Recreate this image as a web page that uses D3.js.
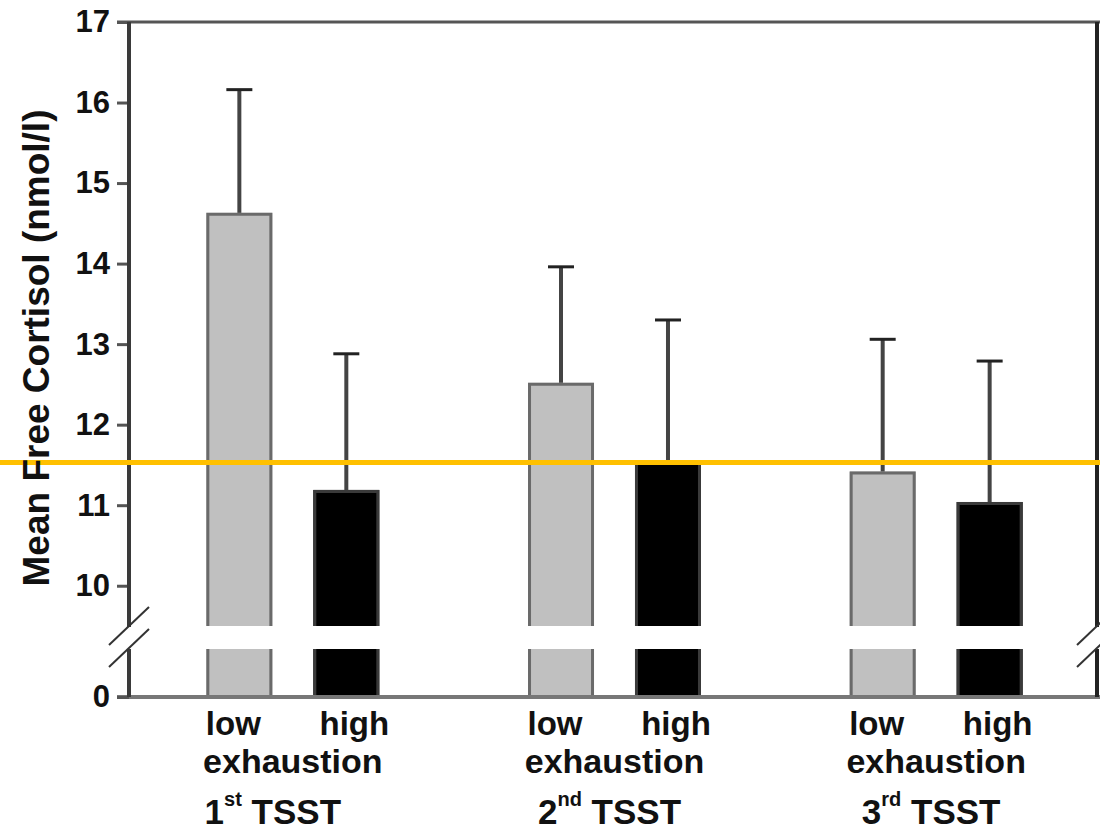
<!DOCTYPE html>
<html>
<head>
	<title>Mean Free Cortisol</title>
	<script type="text/javascript" src="https://cdnjs.cloudflare.com/ajax/libs/d3/7.8.5/d3.min.js"></script>
	<style>
		body { margin: 0; background: #fff; }
		text { font-family: "Liberation Sans", Arial, Helvetica, sans-serif; font-weight: bold; fill: #111; }
	</style>
</head>
<body>
<svg id="chart" width="1100" height="833"></svg>
<script type="text/javascript">
	// data
	var groupNums = ["1", "2", "3"];
	var groupSups = ["st", "nd", "rd"];
	var subgroups = ["low", "high"];
	var lowMean = [14.63, 12.52, 11.42];
	var lowErr = [1.53, 1.44, 1.64];
	var highMean = [11.19, 11.55, 11.04];
	var highErr = [1.69, 1.75, 1.75];
	var refValue = 11.53;
	var yTicks = [10, 11, 12, 13, 14, 15, 16, 17];
	var yLowTicks = [0];

	var svg = d3.select("#chart");

	var axisX = 129, rightX = 1097;
	var yUp = d3.scaleLinear().domain([9.5, 17]).range([626, 22]);
	var yLow = d3.scaleLinear().domain([0, 1]).range([697, 649]);

	var x0 = d3.scaleBand().domain(groupNums).range([132, rightX]);
	var x1 = d3.scaleBand().domain(subgroups).range([0, x0.bandwidth()])
		.paddingInner(0.383).paddingOuter(0.695);

	var bars = [];
	groupNums.forEach(function(g, i) {
		bars.push({group: g, sub: "low", mean: lowMean[i], err: lowErr[i]});
		bars.push({group: g, sub: "high", mean: highMean[i], err: highErr[i]});
	});

	var bw = x1.bandwidth();
	function bx(d) { return x0(d.group) + x1(d.sub); }
	var fillOf = {low: "#c0c0c0", high: "#000"};
	var edgeOf = {low: "#6a6a6a", high: "#3a3a3a"};

	// bars, upper segment
	bars.forEach(function(d) {
		var xl = bx(d), top = yUp(d.mean), bot = yUp(9.5);
		svg.append("rect").attr("x", xl).attr("y", top).attr("width", bw).attr("height", bot - top)
			.attr("fill", fillOf[d.sub]);
		svg.append("path")
			.attr("d", "M" + (xl + 1.5) + "," + bot + "V" + (top + 1.5) + "H" + (xl + bw - 1.5) + "V" + bot)
			.attr("fill", "none").attr("stroke", edgeOf[d.sub]).attr("stroke-width", 3);
		// lower segment
		var lt = yLow.range()[1], lb = yLow(0);
		svg.append("rect").attr("x", xl).attr("y", lt).attr("width", bw).attr("height", lb - lt)
			.attr("fill", fillOf[d.sub]);
		svg.append("path")
			.attr("d", "M" + (xl + 1.5) + "," + lt + "V" + lb + "M" + (xl + bw - 1.5) + "," + lt + "V" + lb)
			.attr("fill", "none").attr("stroke", edgeOf[d.sub]).attr("stroke-width", 3);
	});

	// error bars
	bars.forEach(function(d) {
		var cx = bx(d) + bw / 2;
		svg.append("line").attr("x1", cx).attr("x2", cx)
			.attr("y1", yUp(d.mean)).attr("y2", yUp(d.mean + d.err))
			.attr("stroke", "#444").attr("stroke-width", 4);
		svg.append("line").attr("x1", cx - 13).attr("x2", cx + 13)
			.attr("y1", yUp(d.mean + d.err)).attr("y2", yUp(d.mean + d.err))
			.attr("stroke", "#222").attr("stroke-width", 3);
	});

	// frame: top, bottom, right
	svg.append("line").attr("x1", 117).attr("x2", 1100).attr("y1", yUp(17)).attr("y2", yUp(17))
		.attr("stroke", "#555").attr("stroke-width", 3);
	svg.append("line").attr("x1", 117).attr("x2", 1100).attr("y1", yLow(0)).attr("y2", yLow(0))
		.attr("stroke", "#777").attr("stroke-width", 4);
	svg.append("line").attr("x1", rightX).attr("x2", rightX).attr("y1", yUp(17)).attr("y2", yUp(9.5) + 1)
		.attr("stroke", "#222").attr("stroke-width", 4);
	svg.append("line").attr("x1", rightX).attr("x2", rightX).attr("y1", yLow.range()[1]).attr("y2", yLow(0))
		.attr("stroke", "#222").attr("stroke-width", 4);

	// y axes
	var axUp = svg.append("g").attr("transform", "translate(" + axisX + ",0)")
		.call(d3.axisLeft(yUp).tickValues(yTicks).tickFormat(d3.format("d")).tickSize(12).tickPadding(7).tickSizeOuter(0));
	var axLow = svg.append("g").attr("transform", "translate(" + axisX + ",0)")
		.call(d3.axisLeft(yLow).tickValues(yLowTicks).tickFormat(d3.format("d")).tickSize(12).tickPadding(7).tickSizeOuter(0));
	[axUp, axLow].forEach(function(ax) {
		ax.select(".domain").remove();
		ax.selectAll(".tick line").attr("stroke", "#555").attr("stroke-width", 3);
		ax.selectAll(".tick text").attr("font-size", 31).attr("fill", "#111")
			.style("font-family", "'Liberation Sans', Arial, sans-serif").style("font-weight", "bold");
	});
	svg.append("line").attr("x1", axisX).attr("x2", axisX).attr("y1", yUp(17)).attr("y2", yUp(9.5) + 1)
		.attr("stroke", "#3a3a3a").attr("stroke-width", 4);
	svg.append("line").attr("x1", axisX).attr("x2", axisX).attr("y1", yLow.range()[1]).attr("y2", yLow(0))
		.attr("stroke", "#3a3a3a").attr("stroke-width", 4);

	// break marks
	[axisX, rightX].forEach(function(cx) {
		[626, 648].forEach(function(cy) {
			svg.append("line").attr("x1", cx - 20).attr("y1", cy + 19).attr("x2", cx + 20).attr("y2", cy - 19)
				.attr("stroke", "#333").attr("stroke-width", 2);
		});
	});

	// reference line
	svg.append("line").attr("x1", 0).attr("x2", 1100).attr("y1", yUp(refValue)).attr("y2", yUp(refValue))
		.attr("stroke", "#ffc000").attr("stroke-width", 5);

	// x labels
	groupNums.forEach(function(g, i) {
		var cLow = x0(g) + x1("low") + bw / 2;
		var cHigh = x0(g) + x1("high") + bw / 2;
		var cg = x0(g) + x0.bandwidth() / 2;
		svg.append("text").attr("x", cLow - 6).attr("y", 735).attr("text-anchor", "middle")
			.attr("font-size", 33).text("low");
		svg.append("text").attr("x", cHigh + 8).attr("y", 735).attr("text-anchor", "middle")
			.attr("font-size", 33).text("high");
		svg.append("text").attr("x", cg).attr("y", 773).attr("text-anchor", "middle")
			.attr("font-size", 34).text("exhaustion");
		var t = svg.append("text").attr("x", cg - (i === 0 ? 20 : 5)).attr("y", 824).attr("text-anchor", "middle")
			.attr("font-size", 35);
		t.append("tspan").text(g);
		t.append("tspan").attr("font-size", 20).attr("dy", -18).text(groupSups[i]);
		t.append("tspan").attr("dy", 18).text(" TSST");
	});

	// y title
	svg.append("text").attr("transform", "translate(49,348) rotate(-90)")
		.attr("text-anchor", "middle").attr("font-size", 37)
		.text("Mean Free Cortisol (nmol/l)");
</script>
</body>
</html>
